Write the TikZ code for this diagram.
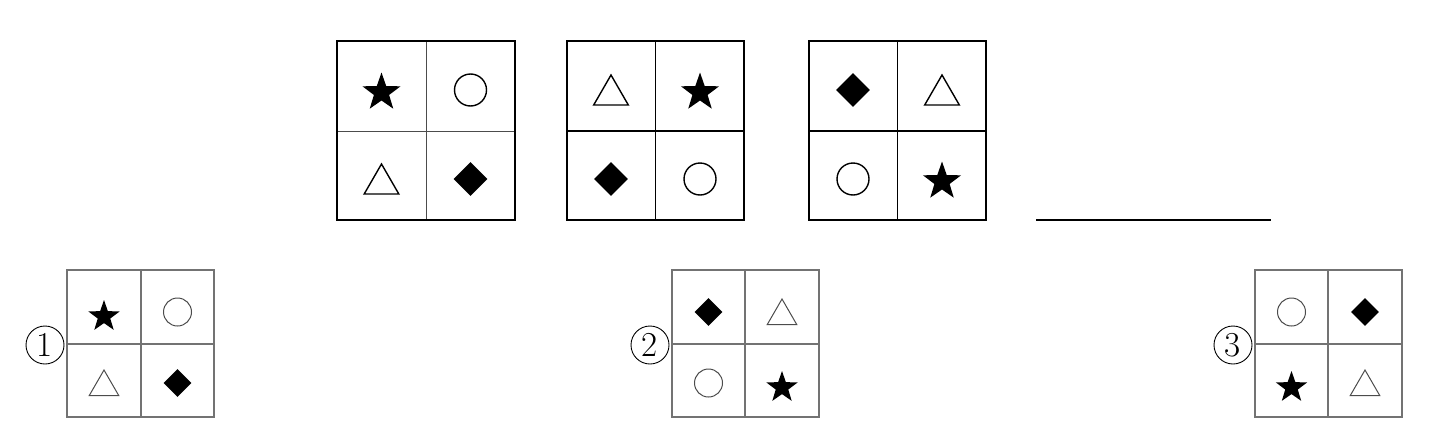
\documentclass[tikz,border=0pt]{standalone}
\usepackage{tikz}
\usetikzlibrary{shapes.geometric}

\tikzset{
  bigbox/.style={line width=1.3pt, draw=black},
  biginner/.style={line width=1pt, draw=black!70},
  smallbox/.style={line width=1.2pt, draw=black!55},
  bigstar/.style={star, star points=5, star point ratio=2.5, fill=black,
    inner sep=0pt, minimum size=40pt, yshift=-2.5pt},
  bigcirc/.style={circle, draw, line width=1.4pt, inner sep=0pt, minimum size=32pt},
  bigtri/.style={regular polygon, regular polygon sides=3, draw, line width=1.4pt,
    inner sep=0pt, minimum size=40pt, yshift=-5pt},
  bigdia/.style={diamond, fill=black, inner sep=0pt, minimum width=34pt,
    minimum height=34pt},
  smallstar/.style={bigstar, minimum size=33pt, yshift=-2pt},
  smallcirc/.style={circle, draw=black!70, line width=1pt, inner sep=0pt,
    minimum size=28pt},
  smalltri/.style={regular polygon, regular polygon sides=3, draw=black!70,
    line width=1pt, inner sep=0pt, minimum size=34pt, yshift=-4pt},
  smalldia/.style={diamond, fill=black, inner sep=0pt, minimum width=28pt,
    minimum height=28pt},
  numlabel/.style={circle, draw, line width=0.9pt, inner sep=0pt,
    minimum size=38pt, font=\fontsize{35}{35}\selectfont},
}

\begin{document}
\begin{tikzpicture}[x=1pt, y=-1pt]

  \useasboundingbox (0, 0) rectangle (1442, 442);

  % first panel
  \draw [biginner] (426, 41) -- (426, 220);
  \draw [biginner] (337, 131) -- (515, 131);
  \draw [bigbox] (337, 41) rectangle (515, 220);
  \node [bigstar] (t1a) at (381.5, 90) {};
  \node [bigcirc] (t1b) at (470.5, 90) {};
  \node [bigtri]  (t1c) at (381.5, 179) {};
  \node [bigdia]  (t1d) at (470.5, 179) {};

  % second panel
  \draw [bigbox] (655.5, 41) -- (655.5, 220);
  \draw [bigbox] (567, 131) -- (744, 131);
  \draw [bigbox] (567, 41) rectangle (744, 220);
  \node [bigtri]  (t2a) at (611, 90) {};
  \node [bigstar] (t2b) at (700, 90) {};
  \node [bigdia]  (t2c) at (611, 179) {};
  \node [bigcirc] (t2d) at (700, 179) {};

  % third panel
  \draw [bigbox] (897.5, 41) -- (897.5, 220);
  \draw [bigbox] (809, 131) -- (986, 131);
  \draw [bigbox] (809, 41) rectangle (986, 220);
  \node [bigdia]  (t3a) at (853, 90) {};
  \node [bigtri]  (t3b) at (942, 90) {};
  \node [bigcirc] (t3c) at (853, 179) {};
  \node [bigstar] (t3d) at (942, 179) {};

  % blank to fill in
  \coordinate (blankl) at (1036, 220);
  \coordinate (blankr) at (1271, 220);
  \draw [line width=2.6pt] (blankl) -- (blankr);

  % choice 1
  \draw [smallbox] (141, 270) -- (141, 417);
  \draw [smallbox] (67, 344) -- (214, 344);
  \draw [smallbox] (67, 270) rectangle (214, 417);
  \node [smallstar] (c1a) at (104, 312) {};
  \node [smallcirc] (c1b) at (177.5, 312) {};
  \node [smalltri]  (c1c) at (104, 383) {};
  \node [smalldia]  (c1d) at (177.5, 383) {};
  \node [numlabel] (n1) at (45, 345) {1};

  % choice 2
  \draw [smallbox] (745, 270) -- (745, 417);
  \draw [smallbox] (672, 344) -- (819, 344);
  \draw [smallbox] (672, 270) rectangle (819, 417);
  \node [smalldia]  (c2a) at (708.5, 312) {};
  \node [smalltri]  (c2b) at (782, 312) {};
  \node [smallcirc] (c2c) at (708.5, 383) {};
  \node [smallstar] (c2d) at (782, 383) {};
  \node [numlabel] (n2) at (650, 345) {2};

  % choice 3
  \draw [smallbox] (1328, 270) -- (1328, 417);
  \draw [smallbox] (1255, 344) -- (1402, 344);
  \draw [smallbox] (1255, 270) rectangle (1402, 417);
  \node [smallcirc] (c3a) at (1291.5, 312) {};
  \node [smalldia]  (c3b) at (1365, 312) {};
  \node [smallstar] (c3c) at (1291.5, 383) {};
  \node [smalltri]  (c3d) at (1365, 383) {};
  \node [numlabel] (n3) at (1233, 345) {3};

\end{tikzpicture}
\end{document}
